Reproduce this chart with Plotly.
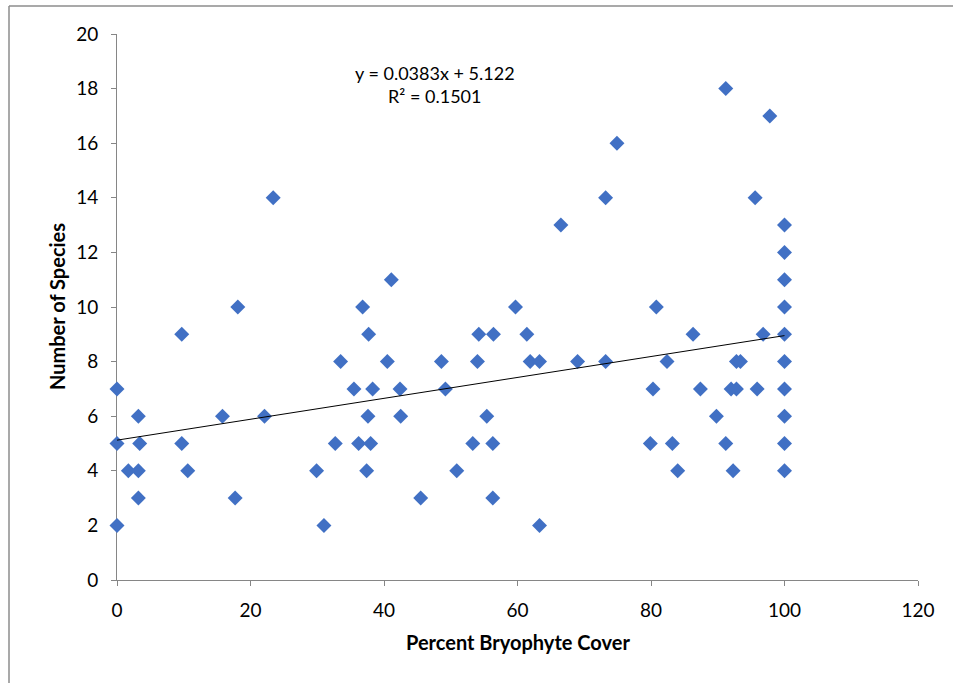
import plotly.graph_objects as go

# Percent bryophyte cover per plot and species count found in it
cover = [
    0, 0, 0,
    1.7,
    3.2, 3.4, 3.2, 3.2,
    9.7, 9.7, 10.6,
    15.8, 17.7, 18.1,
    22.1, 23.4,
    29.9, 31.0, 32.7, 33.5,
    35.5, 36.2, 36.8, 37.4, 37.6, 37.7, 38.0, 38.3,
    40.5, 41.1, 42.4, 42.5,
    45.5, 48.6, 49.2, 50.9,
    53.3, 54.0, 54.2, 55.4, 56.3, 56.3, 56.4,
    59.7, 61.4, 61.9, 63.3, 63.3,
    66.5, 69.0, 73.2, 73.2, 74.9,
    79.9, 80.3, 80.8, 82.4, 83.2, 84.0, 86.3, 87.4, 89.8,
    91.2, 91.2, 92.0, 92.3, 92.8, 92.8, 93.4, 95.6, 95.9, 96.8, 97.8,
    100, 100, 100, 100, 100, 100, 100, 100, 100, 100,
]
species = [
    7, 5, 2,
    4,
    6, 5, 4, 3,
    9, 5, 4,
    6, 3, 10,
    6, 14,
    4, 2, 5, 8,
    7, 5, 10, 4, 6, 9, 5, 7,
    8, 11, 7, 6,
    3, 8, 7, 4,
    5, 8, 9, 6, 5, 3, 9,
    10, 9, 8, 8, 2,
    13, 8, 14, 8, 16,
    5, 7, 10, 8, 5, 4, 9, 7, 6,
    18, 5, 7, 4, 7, 8, 8, 14, 7, 9, 17,
    13, 12, 11, 10, 9, 8, 7, 6, 5, 4,
]

# Linear trendline coefficients
slope = 0.0383
intercept = 5.122
r_squared = 0.1501
trend_x = [0, 100]
trend_y = [slope * v + intercept for v in trend_x]

x_ticks = [0, 20, 40, 60, 80, 100, 120]
y_ticks = [0, 2, 4, 6, 8, 10, 12, 14, 16, 18, 20]

AXIS_GREY = "#868686"
FONT = "Lato, 'Open Sans', 'Liberation Sans', sans-serif"

# plot area geometry (pixels) used to place the frame and titles
W, H = 953, 683
L, R, T, B = 117, 35, 34, 103
PW, PH = W - L - R, H - T - B

fig = go.Figure()
fig.add_trace(go.Scatter(
    x=cover, y=species, mode="markers",
    marker=dict(symbol="diamond", size=11.5, color="#4170C4", line=dict(width=0)),
    cliponaxis=False, showlegend=False,
))
fig.add_trace(go.Scatter(
    x=trend_x, y=trend_y, mode="lines",
    line=dict(color="#000000", width=1),
    cliponaxis=False, showlegend=False,
))

axis_common = dict(
    showline=True, linecolor=AXIS_GREY, linewidth=1,
    ticks="outside", ticklen=5, tickcolor=AXIS_GREY, tickwidth=1,
    showgrid=False, zeroline=False, layer="below traces",
    tickfont=dict(family=FONT, size=19, color="#000000"),
)

fig.update_layout(
    width=W, height=H,
    margin=dict(l=L, r=R, t=T, b=B),
    plot_bgcolor="white", paper_bgcolor="white",
    xaxis=dict(
        range=[0, 120], tickvals=x_ticks, ticktext=[str(v) for v in x_ticks],
        ticklabelstandoff=8,
        **axis_common,
    ),
    yaxis=dict(
        range=[0, 20], tickvals=y_ticks, ticktext=[str(v) for v in y_ticks],
        ticklabelstandoff=9,
        **axis_common,
    ),
    annotations=[
        dict(
            x=47.6, y=18.15, xref="x", yref="y",
            text=f"y = {slope}x + {intercept}<br>R² = {r_squared}",
            showarrow=False, align="center",
            font=dict(family=FONT, size=18, color="#000000"),
        ),
        dict(
            x=0.5, y=(T + PH - 642) / PH, xref="paper", yref="paper",
            xanchor="center", yanchor="middle",
            text="<b>Percent Bryophyte Cover</b>", showarrow=False,
            font=dict(family=FONT, size=20, color="#000000"),
        ),
        dict(
            x=(57 - L) / PW, y=0.5, xref="paper", yref="paper",
            xanchor="center", yanchor="middle", textangle=-90,
            text="<b>Number of Species</b>", showarrow=False,
            font=dict(family=FONT, size=20, color="#000000"),
        ),
    ],
    shapes=[
        # chart frame (top and left edges)
        dict(type="line", xref="paper", yref="paper",
             x0=(9 - L) / PW, x1=(W - L) / PW,
             y0=(T + PH - 6) / PH, y1=(T + PH - 6) / PH,
             line=dict(color="#8C8C8C", width=1.5)),
        dict(type="line", xref="paper", yref="paper",
             x0=(9 - L) / PW, x1=(9 - L) / PW,
             y0=(T + PH - 6) / PH, y1=(T + PH - H) / PH,
             line=dict(color="#8C8C8C", width=1.5)),
    ],
)

fig.write_html("out.html")
